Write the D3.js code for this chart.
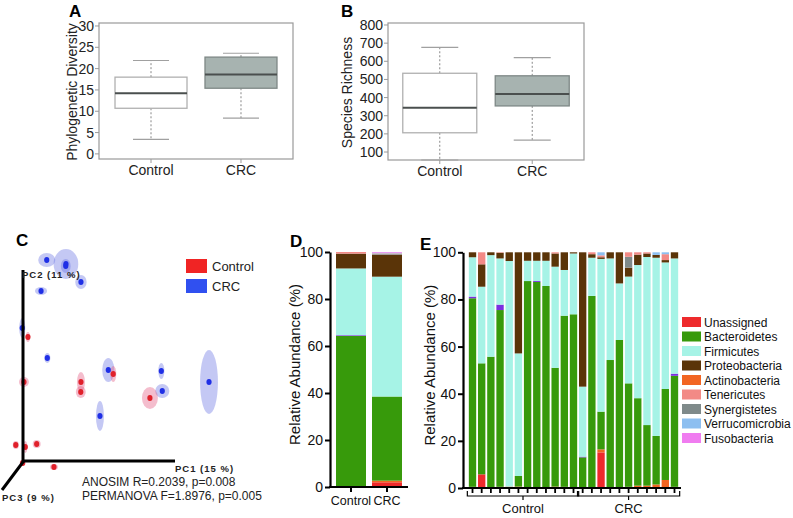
<!DOCTYPE html>
<html>
<head>
<meta charset="utf-8">
<script src="https://cdn.jsdelivr.net/npm/d3@7"></script>
<style>
  body { margin: 0; background: #fff; }
  svg { display: block; font-family: "Liberation Sans", Arial, sans-serif; }
</style>
</head>
<body>
<script>
// ---------- data ----------
const groups = ["Control", "CRC"];

// A: phylogenetic diversity, [min, q1, median, q3, max]
const pdControl = [3.4, 10.7, 14.2, 18.0, 21.9];
const pdCRC = [8.4, 15.4, 18.6, 22.7, 23.6];
const pdTicks = [0, 5, 10, 15, 20, 25, 30];

// B: species richness
const richControl = [56, 206, 344, 534, 677];
const richCRC = [166, 354, 420, 520, 620];
const richTicks = [100, 200, 300, 400, 500, 600, 700, 800];

// C: PCoA scores [pc1, pc2, spread pc1, spread pc2]
const pcoaControl = [
    [2.6, 62.5, 1.1, 2.5], [0.5, 40, 2.6, 2.5], [30.5, 40, 2.1, 5], [30.4, 35, 2.6, 3],
    [47.5, 44, 1.6, 4], [66.8, 32, 4.2, 5.5], [-3.8, 8.5, 1.6, 2], [1.2, 7.5, 1.1, 3],
    [7.2, 9, 2.1, 2], [-0.2, -0.5, 1.5, 1.5], [16.3, -2.5, 2.1, 1.5]
];
const pcoaCRC = [
    [12.5, 101, 4.5, 3.5], [22.6, 99, 6.5, 7.5], [22.5, 98, 2.6, 3.5], [30.5, 90, 3, 3.5],
    [9.5, 85.5, 3.2, 2], [-0.4, 67, 1.6, 5], [12.8, 52, 1.6, 2.5], [44.9, 46, 3.2, 6],
    [40.5, 23, 2.1, 7.5], [72.8, 45.5, 1.6, 4], [73.3, 35.5, 3.7, 3.5], [97.9, 40, 4.7, 16]
];
const pcStats = ["ANOSIM R=0.2039, p=0.008", "PERMANOVA F=1.8976, p=0.005"];

// taxa, bottom to top of each stack ("Other" is the unlabelled purple sliver)
const taxa = ["Unassigned", "Actinobacteria", "Bacteroidetes", "Other", "Firmicutes",
    "Proteobacteria", "Synergistetes", "Tenericutes", "Verrucomicrobia", "Fusobacteria"];
const legendTaxa = ["Unassigned", "Bacteroidetes", "Firmicutes", "Proteobacteria", "Actinobacteria",
    "Tenericutes", "Synergistetes", "Verrucomicrobia", "Fusobacteria"];
const taxaColors = {
    Unassigned: "#ee2a2c", Actinobacteria: "#f26522", Bacteroidetes: "#379a0b", Other: "#7b2fe0",
    Firmicutes: "#a6f3e6", Proteobacteria: "#5a3408", Synergistetes: "#7f8a8a",
    Tenericutes: "#f28a86", Verrucomicrobia: "#8dbff0", Fusobacteria: "#f07cf0"
};

// D: mean relative abundance (%), [Control, CRC]
const dUnassigned = [0, 2.0];
const dActino = [0.3, 0.7];
const dBactero = [64.0, 35.8];
const dOther = [0.3, 0];
const dFirmi = [28.4, 51.0];
const dProteo = [6.3, 9.3];
const dSynerg = [0, 0.3];
const dTeneri = [0.7, 0.3];
const dVerruco = [0, 0.3];
const dFuso = [0, 0.3];

// E: per-sample relative abundance (%), 12 Control then 11 CRC
const eSamples = d3.range(1, 13).map(i => "C" + i).concat(d3.range(1, 12).map(i => "T" + i));
const eUnassigned = [0, 5.8, 0, 0, 0, 0, 0, 0, 0, 0, 0, 0, 0, 0, 15.1, 0, 0, 0, 0, 0, 0, 0, 0];
const eActino = [0.5, 0, 0, 0.5, 0.6, 0.6, 0, 0, 0, 0.6, 0.5, 0, 0, 0, 1.3, 0, 0, 0.5, 1.0, 1.0, 1.5, 3.4, 0.5];
const eBactero = [80.0, 47.1, 55.7, 75.0, 0, 4.5, 87.8, 87.4, 85.7, 50.4, 72.6, 73.7,
    13.0, 81.5, 16.0, 54.3, 62.8, 43.9, 37.1, 25.7, 20.6, 38.6, 47.1];
const eOther = [0.7, 0, 0, 2.3, 0, 0, 0, 0.4, 0, 0, 0, 0, 0.3, 0, 0, 0, 0, 0, 0, 0, 0, 0, 0.9];
const eFirmi = [16.7, 32.5, 43.1, 19.6, 95.7, 52.0, 8.6, 8.6, 10.7, 42.9, 19.4, 25.8,
    29.7, 16.2, 64.8, 43.1, 24.0, 45.3, 56.5, 71.3, 75.6, 53.7, 48.9];
const eProteo = [2.1, 9.5, 1.2, 2.4, 3.7, 42.9, 3.6, 3.6, 3.6, 5.6, 7.5, 0.5,
    57.0, 1.5, 0.7, 2.6, 13.2, 3.8, 4.4, 1.5, 1.2, 1.0, 2.6];
const eSynerg = [0, 0, 0, 0, 0, 0, 0, 0, 0, 0, 0, 0, 0, 0, 0, 0, 0, 4.6, 0, 0, 0, 0, 0];
const eTeneri = [0, 5.1, 0, 0.2, 0, 0, 0, 0, 0, 0.5, 0, 0, 0, 0.8, 0.8, 0, 0, 1.9, 1.0, 0.5, 0, 2.5, 0];
const eVerruco = [0, 0, 0, 0, 0, 0, 0, 0, 0, 0, 0, 0, 0, 0, 1.3, 0, 0, 0, 0, 0, 1.1, 0.8, 0];
const eFuso = [0, 0, 0, 0, 0, 0, 0, 0, 0, 0, 0, 0, 0, 0, 0, 0, 0, 0, 0, 0, 0, 0, 0];
const abundTicks = [0, 20, 40, 60, 80, 100];

// ---------- svg ----------
const svg = d3.select("body").append("svg")
    .attr("width", 793)
    .attr("height", 518);

svg.append("rect").attr("width", 793).attr("height", 518).attr("fill", "#fff");

const panelLetter = (x, y, t) => svg.append("text")
    .attr("x", x).attr("y", y)
    .attr("font-size", 17).attr("font-weight", "bold")
    .text(t);

// ---------- A & B: box plots ----------
function boxPanel(o) {
    const g = svg.append("g");
    const x = d3.scalePoint().domain(groups).range([o.left, o.right]).padding(o.pad);
    const y = d3.scaleLinear().domain(o.domain).range([o.bottom, o.top]);

    // frame
    g.append("rect")
        .attr("x", o.left).attr("y", o.top)
        .attr("width", o.right - o.left).attr("height", o.bottom - o.top)
        .attr("fill", "none").attr("stroke", "#9a9a9a").attr("stroke-width", 1.2);

    // y ticks
    g.selectAll(".yt").data(o.ticks).enter().append("line")
        .attr("x1", o.left - 4).attr("x2", o.left)
        .attr("y1", d => y(d)).attr("y2", d => y(d))
        .attr("stroke", "#9a9a9a");
    g.selectAll(".yl").data(o.ticks).enter().append("text")
        .attr("x", o.left - 5).attr("y", d => y(d) + 5)
        .attr("text-anchor", "end").attr("font-size", 14).attr("fill", "#222")
        .text(d => d);

    // x ticks + labels
    g.selectAll(".xt").data(groups).enter().append("line")
        .attr("x1", d => x(d)).attr("x2", d => x(d))
        .attr("y1", o.bottom).attr("y2", o.bottom + 4)
        .attr("stroke", "#9a9a9a");
    g.selectAll(".xl").data(groups).enter().append("text")
        .attr("x", d => x(d)).attr("y", o.bottom + 16)
        .attr("text-anchor", "middle").attr("font-size", 14).attr("fill", "#222")
        .text(d => d);

    // y label
    g.append("text")
        .attr("transform", `translate(${o.labelX},${(o.top + o.bottom) / 2 + 1}) rotate(-90)`)
        .attr("text-anchor", "middle").attr("font-size", 14).attr("fill", "#222")
        .text(o.label);

    const stats = [o.control, o.crc];
    const fills = ["#ffffff", "#a7b3b0"];
    const strokes = ["#b0b0b0", "#7e8886"];
    const bw = o.boxWidth;

    stats.forEach((s, i) => {
        const cx = x(groups[i]);
        // whiskers
        g.append("line").attr("x1", cx).attr("x2", cx).attr("y1", y(s[3])).attr("y2", y(s[4]))
            .attr("stroke", "#888").attr("stroke-dasharray", "2,2");
        g.append("line").attr("x1", cx).attr("x2", cx).attr("y1", y(s[1])).attr("y2", y(s[0]))
            .attr("stroke", "#888").attr("stroke-dasharray", "2,2");
        [s[0], s[4]].forEach(v => {
            g.append("line")
                .attr("x1", cx - bw / 4).attr("x2", cx + bw / 4)
                .attr("y1", y(v)).attr("y2", y(v))
                .attr("stroke", "#a0a0a0").attr("stroke-width", 1.2);
        });
        // box
        g.append("rect")
            .attr("x", cx - bw / 2).attr("y", y(s[3]))
            .attr("width", bw).attr("height", y(s[1]) - y(s[3]))
            .attr("fill", fills[i]).attr("stroke", strokes[i]).attr("stroke-width", 1.3);
        // median
        g.append("line")
            .attr("x1", cx - bw / 2).attr("x2", cx + bw / 2)
            .attr("y1", y(s[2])).attr("y2", y(s[2]))
            .attr("stroke", "#4a4f4e").attr("stroke-width", 2);
    });
}

boxPanel({ left: 99, right: 293, top: 23, bottom: 159, pad: 0.578, domain: [-1.2, 30.7],
    ticks: pdTicks, control: pdControl, crc: pdCRC, boxWidth: 72,
    label: "Phylogenetic Diversity", labelX: 77 });
boxPanel({ left: 388, right: 584, top: 23, bottom: 160, pad: 0.56, domain: [56, 811],
    ticks: richTicks, control: richControl, crc: richCRC, boxWidth: 74,
    label: "Species Richness", labelX: 352 });
panelLetter(69, 17, "A");
panelLetter(341, 17, "B");

// ---------- C: PCoA ----------
const pcX = d3.scaleLinear().domain([0, 100]).range([23, 213]);
const pcY = d3.scaleLinear().domain([0, 100]).range([462, 262]);
const gC = svg.append("g");

// ellipses first, then points
const pcSets = [
    { pts: pcoaCRC, fill: "rgba(100,110,225,0.38)", dot: "#1f2fe6" },
    { pts: pcoaControl, fill: "rgba(228,90,130,0.4)", dot: "#e0202a" }
];
pcSets.forEach(set => {
    gC.selectAll(null).data(set.pts).enter().append("ellipse")
        .attr("cx", d => pcX(d[0])).attr("cy", d => pcY(d[1]))
        .attr("rx", d => pcX(d[2]) - pcX(0)).attr("ry", d => pcY(0) - pcY(d[3]))
        .attr("fill", set.fill);
});
pcSets.forEach(set => {
    gC.selectAll(null).data(set.pts).enter().append("ellipse")
        .attr("cx", d => pcX(d[0])).attr("cy", d => pcY(d[1]))
        .attr("rx", 2.6).attr("ry", 3)
        .attr("fill", set.dot);
});

// axes
gC.append("line").attr("x1", pcX(0)).attr("x2", pcX(0)).attr("y1", 270).attr("y2", pcY(0) + 1)
    .attr("stroke", "#000").attr("stroke-width", 3);
gC.append("line").attr("x1", pcX(0) - 1).attr("x2", 175).attr("y1", pcY(0) - 1).attr("y2", pcY(0) - 1)
    .attr("stroke", "#000").attr("stroke-width", 3);
gC.append("line").attr("x1", pcX(0)).attr("x2", 2).attr("y1", pcY(0)).attr("y2", 490)
    .attr("stroke", "#000").attr("stroke-width", 3);

const axisLab = (x, y, t) => gC.append("text")
    .attr("x", x).attr("y", y)
    .attr("font-size", 9.5).attr("font-weight", "bold").attr("letter-spacing", 1)
    .attr("fill", "#222").text(t);
axisLab(22, 278, "PC2 (11 %)");
axisLab(175, 472, "PC1 (15 %)");
axisLab(2, 501, "PC3 (9 %)");

gC.selectAll(".stat").data(pcStats).enter().append("text")
    .attr("x", 82).attr("y", (d, i) => 486 + i * 14)
    .attr("font-size", 12).attr("fill", "#222")
    .text(d => d);

// legend
const pcLegend = [["Control", "#f02424"], ["CRC", "#3050f0"]];
pcLegend.forEach((d, i) => {
    gC.append("rect").attr("x", 186).attr("y", 259 + i * 20)
        .attr("width", 21).attr("height", 14).attr("fill", d[1]);
    gC.append("text").attr("x", 212).attr("y", 271 + i * 20)
        .attr("font-size", 13).attr("fill", "#222").text(d[0]);
});
panelLetter(16, 246, "C");

// ---------- stacked bar helper ----------
function stackedBars(g, table, x, y) {
    const series = d3.stack().keys(taxa)(table);
    g.selectAll(".layer").data(series).enter().append("g")
        .attr("fill", d => taxaColors[d.key])
        .selectAll("rect").data(d => d).enter().append("rect")
        .attr("x", d => x(d.data.id))
        .attr("width", x.bandwidth())
        .attr("y", d => y(d[1]))
        .attr("height", d => Math.max(0, y(d[0]) - y(d[1])));
}

function abundAxis(g, y, xPos, labelX) {
    const ax = g.append("g")
        .attr("transform", `translate(${xPos},0)`)
        .call(d3.axisLeft(y).tickValues(abundTicks).tickSize(5).tickSizeOuter(0));
    ax.select(".domain").attr("stroke-width", 2.2);
    ax.selectAll(".tick line").attr("stroke-width", 2);
    ax.selectAll(".tick text")
        .attr("font-size", 14).attr("fill", "#111")
        .attr("font-family", "Liberation Sans, Arial, sans-serif")
        .attr("x", -7);
    g.append("text")
        .attr("transform", `translate(${labelX},${(y(0) + y(100)) / 2 - 5}) rotate(-90)`)
        .attr("text-anchor", "middle").attr("font-size", 15).attr("fill", "#111")
        .text("Relative Abundance (%)");
}

// ---------- D ----------
const dTable = groups.map((gname, i) => ({
    id: gname,
    Unassigned: dUnassigned[i], Actinobacteria: dActino[i], Bacteroidetes: dBactero[i],
    Other: dOther[i], Firmicutes: dFirmi[i], Proteobacteria: dProteo[i],
    Synergistetes: dSynerg[i], Tenericutes: dTeneri[i], Verrucomicrobia: dVerruco[i],
    Fusobacteria: dFuso[i]
}));
const xD = d3.scaleBand().domain(groups).range([330, 408]).paddingInner(0.167).paddingOuter(0.167);
const yD = d3.scaleLinear().domain([0, 100]).range([487, 252]);
const gD = svg.append("g");
stackedBars(gD, dTable, xD, yD);
abundAxis(gD, yD, 330, 300);
gD.append("line").attr("x1", 329).attr("x2", 408).attr("y1", 487).attr("y2", 487)
    .attr("stroke", "#000").attr("stroke-width", 2.2);
gD.selectAll(".dxt").data(groups).enter().append("line")
    .attr("x1", d => xD(d) + xD.bandwidth() / 2).attr("x2", d => xD(d) + xD.bandwidth() / 2)
    .attr("y1", 487).attr("y2", 492)
    .attr("stroke", "#000").attr("stroke-width", 2);
gD.selectAll(".dxl").data(groups).enter().append("text")
    .attr("x", d => xD(d) + xD.bandwidth() / 2).attr("y", 505)
    .attr("text-anchor", "middle").attr("font-size", 12.5).attr("fill", "#111")
    .text(d => d);
panelLetter(290, 247, "D");

// ---------- E ----------
const eTable = eSamples.map((s, i) => ({
    id: s,
    Unassigned: eUnassigned[i], Actinobacteria: eActino[i], Bacteroidetes: eBactero[i],
    Other: eOther[i], Firmicutes: eFirmi[i], Proteobacteria: eProteo[i],
    Synergistetes: eSynerg[i], Tenericutes: eTeneri[i], Verrucomicrobia: eVerruco[i],
    Fusobacteria: eFuso[i]
}));
const xE = d3.scaleBand().domain(eSamples).range([467, 680]).paddingInner(0.2).paddingOuter(0.2);
const yE = d3.scaleLinear().domain([0, 100]).range([488, 252.3]);
const gE = svg.append("g");
stackedBars(gE, eTable, xE, yE);
abundAxis(gE, yE, 463, 435);

gE.append("line").attr("x1", 462).attr("x2", 681).attr("y1", 488).attr("y2", 488)
    .attr("stroke", "#000").attr("stroke-width", 2.2);
gE.selectAll(".ext").data(eSamples).enter().append("line")
    .attr("x1", d => xE(d) + xE.bandwidth() / 2).attr("x2", d => xE(d) + xE.bandwidth() / 2)
    .attr("y1", 489).attr("y2", 493)
    .attr("stroke", "#000").attr("stroke-width", 1.8);

// group brackets
const eGroups = [
    { name: "Control", ids: eSamples.slice(0, 12) },
    { name: "CRC", ids: eSamples.slice(12) }
];
eGroups.forEach(gr => {
    const x0 = xE(gr.ids[0]) - 1.5;
    const x1 = xE(gr.ids[gr.ids.length - 1]) + xE.bandwidth() + 1.5;
    const xc = (x0 + x1) / 2;
    gE.append("path")
        .attr("d", `M${x0},491V496H${x1}V491M${xc},496V500`)
        .attr("fill", "none").attr("stroke", "#000").attr("stroke-width", 1.2);
    gE.append("text")
        .attr("x", xc).attr("y", 513)
        .attr("text-anchor", "middle").attr("font-size", 13).attr("fill", "#111")
        .text(gr.name);
});

// legend
const gLeg = gE.append("g").attr("transform", "translate(682,317)");
gLeg.selectAll("rect").data(legendTaxa).enter().append("rect")
    .attr("x", 0).attr("y", (d, i) => i * 14.5)
    .attr("width", 19).attr("height", 10)
    .attr("fill", d => taxaColors[d]);
gLeg.selectAll("text").data(legendTaxa).enter().append("text")
    .attr("x", 22).attr("y", (d, i) => i * 14.5 + 9.5)
    .attr("font-size", 12).attr("fill", "#111")
    .text(d => d);
panelLetter(420, 250, "E");
</script>
</body>
</html>
